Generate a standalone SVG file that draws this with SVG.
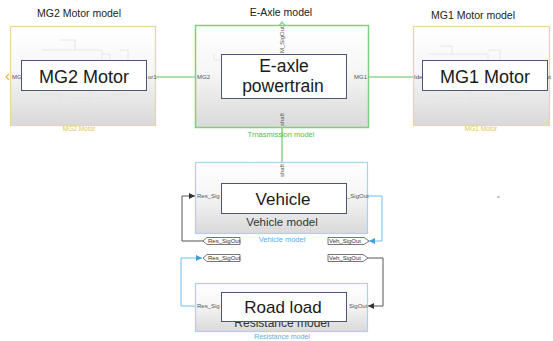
<svg xmlns="http://www.w3.org/2000/svg" width="553" height="341" viewBox="0 0 553 341">
<defs>
<linearGradient id="blk" x1="0" y1="0" x2="0" y2="1">
<stop offset="0" stop-color="#ffffff"/>
<stop offset="0.45" stop-color="#f6f6f6"/>
<stop offset="1" stop-color="#d9d9d9"/>
</linearGradient>
<clipPath id="resclip"><rect x="195" y="322" width="173" height="10"/></clipPath>
<marker id="ab" viewBox="0 0 8 8" refX="8" refY="4" markerWidth="6" markerHeight="6" orient="auto" markerUnits="userSpaceOnUse">
<path d="M0,0 L8,4 L0,8 z" fill="#333"/>
</marker>
<marker id="au" viewBox="0 0 8 8" refX="8" refY="4" markerWidth="6" markerHeight="6" orient="auto" markerUnits="userSpaceOnUse">
<path d="M0,0 L8,4 L0,8 z" fill="#3aa0e0"/>
</marker>
</defs>
<style>
text{font-family:"Liberation Sans","Noto Sans",Arial,sans-serif}
.title{font-size:10.5px;fill:#222}
.big{font-size:18px;fill:#1a1a1a;text-anchor:middle}
.port{font-size:6px;fill:#555}
.cap{font-size:7.5px;text-anchor:middle}
.ov{fill:#fff;stroke:#4d5576;stroke-width:1}
.faint{fill:none;stroke:#e2e2e2;stroke-width:0.8}
.g{fill:none;stroke:#90d490;stroke-width:1.6}
.blk{fill:none;stroke:#555;stroke-width:1}
.blu{fill:none;stroke:#6cbde8;stroke-width:1}
.tag{fill:#fff;stroke:#555;stroke-width:0.8}
.tagt{font-size:6px;fill:#333}
</style>
<rect width="553" height="341" fill="#fff"/>

<g id="connectors">
<line class="g" x1="156" y1="77" x2="195" y2="77"/>
<line class="g" x1="369" y1="77" x2="413" y2="77"/>
<line class="g" x1="282" y1="128" x2="282" y2="162"/>
<path class="g" d="M279,26 L282,22 L285,26" stroke-width="1.2"/>
<path class="blk" d="M203,241 H182 V196 H195" marker-end="url(#ab)"/>
<path class="blu" d="M368,196 H382 V241 H369" marker-end="url(#au)"/>
<path class="blu" d="M195,306 H181 V258 H202" marker-end="url(#au)"/>
<path class="blk" d="M368,258 H383 V306 H368" marker-end="url(#ab)"/>
</g>

<g id="mg2">
<text class="title" x="79" y="17" text-anchor="middle">MG2 Motor model</text>
<rect x="10.5" y="26.5" width="145" height="99" fill="url(#blk)" stroke="#e6d896" stroke-width="1.2"/>
<path class="faint" d="M42,50 H102 V62 M60,40 H75 V50 M102,54 H110 V62 M40,94 H60 V100 M70,98 H108 M90,92 V104 M115,94 H130 M120,50 H128 V60"/>
<path d="M9,74 L6,77 L9,80" fill="none" stroke="#e0c040" stroke-width="1.2"/>
<text class="port" x="12" y="79">MG</text>
<text class="port" x="148" y="79">or1</text>
<rect class="ov" x="21.5" y="60.5" width="125" height="30"/>
<text class="big" x="84" y="83">MG2 Motor</text>
<text class="cap" x="79" y="131" fill="#e2c84a" style="font-size:6.5px">MG2 Motor</text>
</g>

<g id="eaxle">
<text class="title" x="281" y="16" text-anchor="middle">E-Axle model</text>
<rect x="195.5" y="25.5" width="173" height="102" fill="url(#blk)" stroke="#7fcf7f" stroke-width="1.5"/>
<path class="faint" d="M214,54 V60 H221 M240,100 H330"/>
<text class="port" x="197" y="79">MG2</text>
<text class="port" x="354" y="79">MG1</text>
<text class="port" transform="translate(284,53) rotate(-90)">M_SigOut</text>
<text class="port" transform="translate(284,126) rotate(-90)">shaft</text>
<rect class="ov" x="221.5" y="54.5" width="125" height="44"/>
<text class="big" x="284" y="72" style="font-size:17.5px">E-axle</text>
<text class="big" x="283" y="92" style="font-size:17.5px">powertrain</text>
<text class="cap" x="281" y="137" fill="#4cc24c">Trnasmission model</text>
</g>

<g id="mg1">
<text class="title" x="473" y="19" text-anchor="middle">MG1 Motor model</text>
<rect x="413.5" y="26.5" width="136" height="99" fill="url(#blk)" stroke="#e6d896" stroke-width="1.2"/>
<path class="faint" d="M428,54 H488 V60 M440,46 H452 V54 M488,50 H500 V60 M428,96 H446 M450,98 H495 M470,92 V104 M505,94 H520 M530,66 H540"/>
<text class="port" x="414" y="79">Ide</text>
<text class="port" x="546" y="79">ut</text>
<rect class="ov" x="422.5" y="60.5" width="125" height="30"/>
<text class="big" x="485" y="83">MG1 Motor</text>
<text class="cap" x="481" y="131" fill="#e2c84a" style="font-size:6.5px">MG1 Motor</text>
</g>

<g id="vehicle">
<rect x="195.5" y="162.5" width="172" height="71" fill="url(#blk)" stroke="#a8d3ef" stroke-width="1.2"/>
<text class="port" transform="translate(284,177) rotate(-90)">shaft</text>
<text class="port" x="197" y="198">Res_Sig</text>
<text class="port" x="347" y="198">_SigOut</text>
<text x="282" y="226" text-anchor="middle" style="font-size:11.5px;fill:#333">Vehicle model</text>
<rect class="ov" x="221.5" y="183.5" width="125" height="30"/>
<text class="big" x="283" y="205" style="font-size:17px">Vehicle</text>
<text class="cap" x="282" y="242" fill="#5aaee6">Vehicle model</text>
</g>

<g id="resistance">
<rect x="195.5" y="283.5" width="172" height="48" fill="url(#blk)" stroke="#a8d3ef" stroke-width="1.2"/>
<text class="port" x="197" y="308">Res_Sig</text>
<text class="port" x="349" y="308">SigOut</text>
<text x="282" y="326.5" text-anchor="middle" clip-path="url(#resclip)" style="font-size:12px;fill:#333">Resistance model</text>
<rect class="ov" x="221.5" y="292.5" width="125" height="29"/>
<text class="big" x="283" y="313" style="font-size:17px">Road load</text>
<text class="cap" x="282" y="339" fill="#5aaee6" style="font-size:7px">Resistance model</text>
</g>

<g id="from-res">
<path class="tag" d="M203,241 L207,237.5 H240 V244.5 H207 z"/>
<text class="tagt" x="208" y="243.2">Res_SigOut</text>
</g>
<g id="goto-res">
<path class="tag" d="M203,258 L207,254.5 H240 V261.5 H207 z"/>
<text class="tagt" x="208" y="260.2">Res_SigOut</text>
</g>
<g id="goto-veh">
<path class="tag" d="M328,237.5 H364 L369,241 L364,244.5 H328 z"/>
<text class="tagt" x="329" y="243.2">Veh_SigOut</text>
</g>
<g id="from-veh">
<path class="tag" d="M328,254.5 H363 L368,258 L363,261.5 H328 z"/>
<text class="tagt" x="329" y="260.2">Veh_SigOut</text>
</g>
<rect x="497" y="196" width="3" height="2" fill="#c8c8e0"/>
</svg>
